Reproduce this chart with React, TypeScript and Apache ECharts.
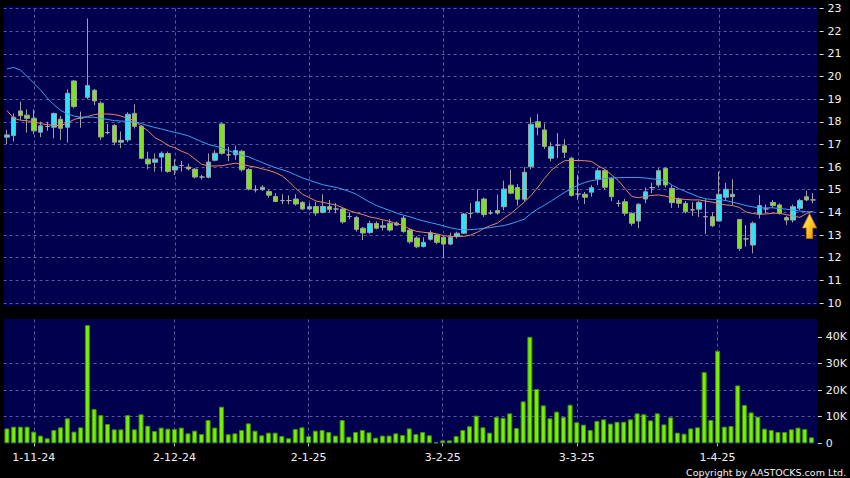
import React, { useEffect, useRef } from "react";
import * as echarts from "echarts";

const dates = [
  "28-10-24","29-10-24","30-10-24","31-10-24",
  "1-11-24","4-11-24","5-11-24","6-11-24","7-11-24","8-11-24","11-11-24","12-11-24","13-11-24","14-11-24","15-11-24","18-11-24","19-11-24","20-11-24","21-11-24","22-11-24","25-11-24","26-11-24","27-11-24","28-11-24","29-11-24",
  "2-12-24","3-12-24","4-12-24","5-12-24","6-12-24","9-12-24","10-12-24","11-12-24","12-12-24","13-12-24","16-12-24","17-12-24","18-12-24","19-12-24","20-12-24","23-12-24","24-12-24","27-12-24","30-12-24","31-12-24",
  "2-1-25","3-1-25","6-1-25","7-1-25","8-1-25","9-1-25","10-1-25","13-1-25","14-1-25","15-1-25","16-1-25","17-1-25","20-1-25","21-1-25","22-1-25","23-1-25","24-1-25","27-1-25","28-1-25","29-1-25",
  "3-2-25","4-2-25","5-2-25","6-2-25","7-2-25","10-2-25","11-2-25","12-2-25","13-2-25","14-2-25","17-2-25","18-2-25","19-2-25","20-2-25","21-2-25","24-2-25","25-2-25","26-2-25","27-2-25","28-2-25",
  "3-3-25","4-3-25","5-3-25","6-3-25","7-3-25","10-3-25","11-3-25","12-3-25","13-3-25","14-3-25","17-3-25","18-3-25","19-3-25","20-3-25","21-3-25","24-3-25","25-3-25","26-3-25","27-3-25","28-3-25","31-3-25",
  "1-4-25","2-4-25","3-4-25","7-4-25","8-4-25","9-4-25","10-4-25","11-4-25","14-4-25","15-4-25","16-4-25","17-4-25","22-4-25","23-4-25","24-4-25",
];

const tickLabels = ["1-11-24", "2-12-24", "2-1-25", "3-2-25", "3-3-25", "1-4-25"];

const opens = [
  17.32,17.39,18.48,18.29,18.15,17.54,17.79,17.76,18.11,17.76,19.80,18.17,19.08,19.39,18.82,17.52,17.84,17.10,17.20,18.37,
  17.80,16.35,16.21,16.44,16.60,15.87,16.07,16.00,15.91,15.56,15.55,16.30,17.90,16.54,16.54,16.70,15.89,15.00,15.00,14.92,
  14.70,14.52,14.52,14.59,14.44,14.15,14.26,14.00,14.26,14.15,14.15,13.82,13.77,13.30,13.11,13.51,13.34,13.52,13.44,13.75,
  13.22,12.87,12.49,12.81,13.00,12.90,12.60,12.93,13.08,13.95,14.01,14.59,13.97,14.08,14.25,15.20,15.10,14.58,16.02,18.00,
  17.64,16.39,16.97,16.94,16.39,14.81,14.80,14.89,15.47,15.84,15.50,14.40,14.47,13.96,13.62,14.59,15.09,15.21,15.94,15.06,
  14.58,14.40,14.11,14.14,13.81,13.81,13.62,14.67,14.69,13.69,12.83,12.56,13.92,14.15,14.44,14.33,13.77,13.66,14.18,14.69,14.55,
];
const closes = [
  17.42,18.20,18.27,18.15,17.60,17.82,17.79,18.37,17.71,19.26,18.67,18.17,19.60,18.92,17.33,17.52,17.10,17.18,18.33,17.80,
  16.39,16.14,16.35,16.61,15.81,16.03,16.07,15.92,15.56,15.56,16.22,16.61,16.61,16.54,16.73,15.88,15.03,15.00,15.11,14.76,
  14.48,14.52,14.52,14.37,14.15,14.25,13.97,14.26,14.13,14.15,13.58,13.82,13.25,13.09,13.51,13.30,13.41,13.22,13.53,13.16,
  12.70,12.48,12.68,13.10,12.68,12.60,12.90,13.08,13.93,13.95,14.47,13.90,13.97,13.97,15.03,14.85,14.58,15.77,17.89,17.76,
  16.91,16.90,16.97,16.65,14.75,14.81,14.67,15.09,15.84,15.11,14.69,14.40,13.96,13.52,14.36,14.91,15.09,15.84,15.21,14.43,
  14.40,14.03,14.11,14.44,13.81,13.41,14.80,15.02,14.80,12.41,12.83,13.52,14.30,14.15,14.30,13.96,13.66,14.25,14.52,14.55,14.55,
];
const lows = [
  17.02,17.13,18.08,17.52,17.45,17.32,17.60,17.27,17.20,17.08,18.60,17.74,19.00,18.74,17.20,17.45,16.97,16.83,17.10,17.70,
  16.35,15.90,15.80,15.80,15.75,15.65,15.80,15.85,15.50,15.45,15.50,16.25,16.55,16.27,16.32,15.80,14.97,14.88,14.95,14.65,
  14.45,14.36,14.36,14.30,14.10,14.10,13.85,13.95,14.00,13.96,13.50,13.70,13.15,12.78,13.05,13.25,13.20,13.15,13.40,13.10,
  12.62,12.42,12.45,12.75,12.60,11.97,12.55,12.85,13.05,13.75,13.95,13.80,13.90,13.90,14.10,14.80,14.30,14.50,15.90,17.40,
  16.80,16.25,16.40,16.40,14.70,14.55,14.37,14.70,15.20,15.00,14.50,14.25,13.85,13.41,13.30,14.40,14.85,15.10,15.10,14.20,
  14.20,13.95,13.85,13.80,13.05,13.35,13.60,14.50,14.32,12.30,12.49,12.19,13.73,13.95,14.20,13.90,13.45,13.55,14.10,14.50,14.40,
];
const highs = [
  17.64,18.37,18.89,18.55,18.55,18.01,18.00,18.40,18.26,19.43,19.85,18.45,22.56,19.45,18.90,17.90,17.90,17.57,18.42,18.77,
  17.85,16.68,16.60,16.69,16.68,16.34,16.27,16.15,15.95,15.65,16.60,16.74,17.96,16.90,16.95,16.75,15.95,15.20,15.20,15.00,
  14.85,14.80,14.75,14.80,14.50,14.40,14.47,14.80,14.55,14.40,14.20,14.00,13.85,13.35,13.63,13.60,13.65,13.70,13.60,13.85,
  13.30,12.95,12.90,13.20,13.05,12.95,13.10,13.15,13.98,14.41,15.02,14.65,14.10,14.78,15.40,15.88,15.25,16.00,18.20,18.35,
  17.93,17.10,17.50,17.23,16.45,15.65,14.90,15.20,15.95,15.90,15.55,14.55,14.60,14.00,14.40,15.10,15.30,15.95,16.00,15.20,
  14.65,14.50,14.45,14.50,14.58,14.00,15.80,15.30,15.46,13.70,13.44,13.60,14.77,14.35,14.55,14.40,13.85,14.35,14.60,14.95,14.85,
];

// short moving average (orange)
const maShort = [
  18.50,18.15,18.07,18.04,18.00,17.92,17.87,17.84,17.83,17.95,18.10,18.18,18.23,18.32,18.35,18.34,18.32,18.25,18.15,18.05,
  17.80,17.60,17.30,17.15,16.95,16.85,16.70,16.58,16.35,16.12,16.05,16.05,16.06,16.12,16.17,16.12,16.05,16.00,15.92,15.85,
  15.75,15.60,15.35,15.05,14.80,14.65,14.50,14.45,14.38,14.32,14.20,14.07,13.98,13.90,13.80,13.74,13.67,13.60,13.50,13.42,
  13.26,13.16,13.12,13.09,13.05,12.97,12.94,12.94,12.94,13.00,13.12,13.30,13.42,13.53,13.75,13.95,14.20,14.45,14.75,15.10,
  15.50,15.85,16.10,16.28,16.29,16.29,16.28,16.25,16.05,15.90,15.65,15.40,15.05,14.70,14.65,14.70,14.75,14.77,14.72,14.63,
  14.60,14.57,14.55,14.55,14.50,14.45,14.38,14.33,14.30,14.22,14.02,13.95,13.92,13.93,13.96,13.96,13.90,13.84,13.78,13.95,14.05,
];
// long moving average (blue)
const maLong = [
  20.33,20.40,20.28,20.00,19.70,19.40,19.05,18.75,18.50,18.35,18.25,18.20,18.20,18.20,18.15,18.10,18.05,18.03,18.02,18.00,
  17.92,17.83,17.75,17.68,17.60,17.53,17.46,17.38,17.25,17.12,17.00,16.92,16.85,16.72,16.62,16.52,16.45,16.32,16.20,16.08,
  15.97,15.88,15.78,15.65,15.52,15.42,15.32,15.22,15.16,15.10,15.02,14.92,14.80,14.62,14.45,14.30,14.19,14.08,13.97,13.88,
  13.80,13.70,13.62,13.55,13.48,13.40,13.32,13.26,13.23,13.24,13.26,13.30,13.33,13.38,13.42,13.50,13.60,13.70,13.95,14.15,
  14.32,14.50,14.70,14.88,15.05,15.20,15.32,15.40,15.45,15.50,15.52,15.53,15.54,15.54,15.54,15.52,15.48,15.45,15.40,15.20,
  15.05,14.92,14.80,14.68,14.60,14.57,14.57,14.52,14.45,14.38,14.30,14.24,14.20,14.20,14.20,14.17,14.14,14.10,14.06,14.03,14.02,
];

// volume in thousands
const volumes = [
  5.6,6.25,6.25,6.25,4.4,2.9,1.9,5.0,6.0,9.4,4.4,6.0,44.4,12.9,10.6,7.25,5.25,5.25,10.6,5.25,
  10.9,6.6,4.6,5.9,5.5,5.4,5.9,3.75,4.75,3.5,8.75,5.9,13.75,3.4,3.75,5.0,7.5,4.75,3.0,4.0,
  4.0,2.75,1.9,5.4,6.0,2.75,4.75,5.0,4.25,2.9,8.75,2.5,4.25,5.0,4.1,2.1,2.9,2.9,3.75,3.1,
  5.6,3.5,4.25,3.0,0.4,1.1,1.1,2.75,5.0,6.4,10.4,6.0,4.0,9.9,9.6,11.25,5.75,15.75,40.0,20.4,
  14.25,9.4,11.9,9.9,14.5,7.9,7.0,5.0,8.4,9.0,7.4,8.1,8.1,9.0,11.25,10.9,8.6,11.25,7.1,9.75,
  4.0,3.6,5.6,6.0,26.75,8.75,34.75,6.25,6.5,21.75,14.4,11.6,10.0,5.5,5.0,4.25,4.25,5.25,5.9,5.4,2.25,
];

const priceTicks = { min: 10, max: 23, interval: 1 };
const volumeTicks = [0, 10, 20, 30, 40];

const FONT = "DejaVu Sans";
const GRID_LINE = { color: "#5a5a9e", type: [3, 3] as number[], width: 1 };
const isTick = (_: number, v: string) => tickLabels.includes(v);

export default function App() {
  const ref = useRef<HTMLDivElement>(null);

  useEffect(() => {
    if (!ref.current) return;
    const chart = echarts.init(ref.current, undefined, { renderer: "svg" });

    const candleData = dates.map((_, i) => {
      const item: any = { value: [opens[i], closes[i], lows[i], highs[i]] };
      if (opens[i] === closes[i]) {
        item.itemStyle = {
          color: "#a8a8a8",
          color0: "#a8a8a8",
          borderColor: "#a8a8a8",
          borderColor0: "#a8a8a8",
        };
      }
      return item;
    });

    const option: any = {
      animation: false,
      backgroundColor: "#000000",
      graphic: [
        {
          type: "rect",
          z: -10,
          silent: true,
          shape: { x: 4, y: 6, width: 813, height: 300 },
          style: { fill: "#00004f" },
        },
        {
          type: "rect",
          z: -10,
          silent: true,
          shape: { x: 4, y: 319, width: 813, height: 125 },
          style: { fill: "#00004f" },
        },
        {
          type: "polygon",
          z: 100,
          silent: true,
          shape: {
            points: [
              [809.5, 213.5],
              [816.7, 228],
              [812.7, 228],
              [812.7, 238.5],
              [806.3, 238.5],
              [806.3, 228],
              [802.3, 228],
            ],
          },
          style: {
            fill: {
              type: "linear",
              x: 0,
              y: 0,
              x2: 1,
              y2: 1,
              colorStops: [
                { offset: 0, color: "#fff07a" },
                { offset: 0.5, color: "#ffc82a" },
                { offset: 1, color: "#e89000" },
              ],
            },
            stroke: "#b86e00",
            lineWidth: 0.8,
          },
        },
        {
          type: "text",
          z: 100,
          silent: true,
          style: {
            text: "Copyright by AASTOCKS.com Ltd.",
            x: 846,
            y: 472,
            align: "right",
            verticalAlign: "middle",
            textAlign: "right",
            textVerticalAlign: "middle",
            fill: "#f2f2f2",
            font: `9.5px "${FONT}"`,
          },
        },
      ],
      grid: [
        { left: 3.6, right: 33.4, top: 8.5, height: 294.5 },
        { left: 3.6, right: 33.4, top: 319.5, height: 123.8 },
      ],
      xAxis: [
        {
          type: "category",
          gridIndex: 0,
          data: dates,
          boundaryGap: true,
          axisLine: { show: false },
          axisTick: { show: false },
          axisLabel: { show: false },
          splitLine: {
            show: true,
            interval: isTick,
            alignWithLabel: true,
            lineStyle: GRID_LINE,
          },
        },
        {
          type: "category",
          gridIndex: 1,
          data: dates,
          boundaryGap: true,
          offset: 3,
          axisLine: { show: false },
          axisTick: {
            show: true,
            interval: isTick,
            alignWithLabel: true,
            length: 3,
            lineStyle: { color: "#cccccc", width: 1 },
          },
          axisLabel: {
            interval: isTick,
            color: "#f2f2f2",
            fontFamily: FONT,
            fontSize: 11,
            margin: 6,
          },
          splitLine: {
            show: true,
            interval: isTick,
            alignWithLabel: true,
            lineStyle: GRID_LINE,
          },
        },
      ],
      yAxis: [
        {
          type: "value",
          gridIndex: 0,
          position: "right",
          min: priceTicks.min,
          max: priceTicks.max,
          interval: priceTicks.interval,
          offset: 3,
          axisLine: { show: false },
          axisTick: { show: true, length: 4, lineStyle: { color: "#dddddd" } },
          axisLabel: {
            color: "#f2f2f2",
            fontFamily: FONT,
            fontSize: 11,
            margin: 8,
          },
          splitLine: { show: true, lineStyle: GRID_LINE },
        },
        {
          type: "value",
          gridIndex: 1,
          position: "right",
          min: 0,
          max: 46.5,
          interval: 10,
          offset: 3,
          axisLine: { show: false },
          axisTick: {
            show: true,
            length: 4,
            customValues: volumeTicks,
            lineStyle: { color: "#dddddd" },
          },
          axisLabel: {
            color: "#f2f2f2",
            fontFamily: FONT,
            fontSize: 11,
            margin: 8,
            customValues: volumeTicks,
            formatter: (v: number) => (v === 0 ? "0" : `${v}K`),
          },
          splitLine: { show: true, showMaxLine: false, showMinLine: false, lineStyle: GRID_LINE },
        },
      ],
      series: [
        {
          type: "candlestick",
          name: "price",
          xAxisIndex: 0,
          yAxisIndex: 0,
          barWidth: 5,
          data: candleData,
          itemStyle: {
            color: "#2de3f7",
            color0: "#7fe024",
            borderColor: "#a0a0a0",
            borderColor0: "#a0a0a0",
            borderWidth: 1,
          },
        },
        {
          type: "line",
          name: "maShort",
          xAxisIndex: 0,
          yAxisIndex: 0,
          data: maShort,
          showSymbol: false,
          symbol: "none",
          z: 5,
          lineStyle: { color: "#e8875a", width: 1 },
        },
        {
          type: "line",
          name: "maLong",
          xAxisIndex: 0,
          yAxisIndex: 0,
          data: maLong,
          showSymbol: false,
          symbol: "none",
          z: 5,
          lineStyle: { color: "#3aa2f0", width: 1 },
        },
        {
          type: "bar",
          name: "volume",
          xAxisIndex: 1,
          yAxisIndex: 1,
          barWidth: 5,
          data: volumes,
          itemStyle: {
            color: "#74f000",
            borderColor: "#3f8f0a",
            borderWidth: 1,
          },
        },
      ],
    };

    chart.setOption(option);
    return () => chart.dispose();
  }, []);

  return (
    <div
      ref={ref}
      style={{ position: "fixed", left: 0, top: 0, width: 850, height: 478 }}
    />
  );
}
